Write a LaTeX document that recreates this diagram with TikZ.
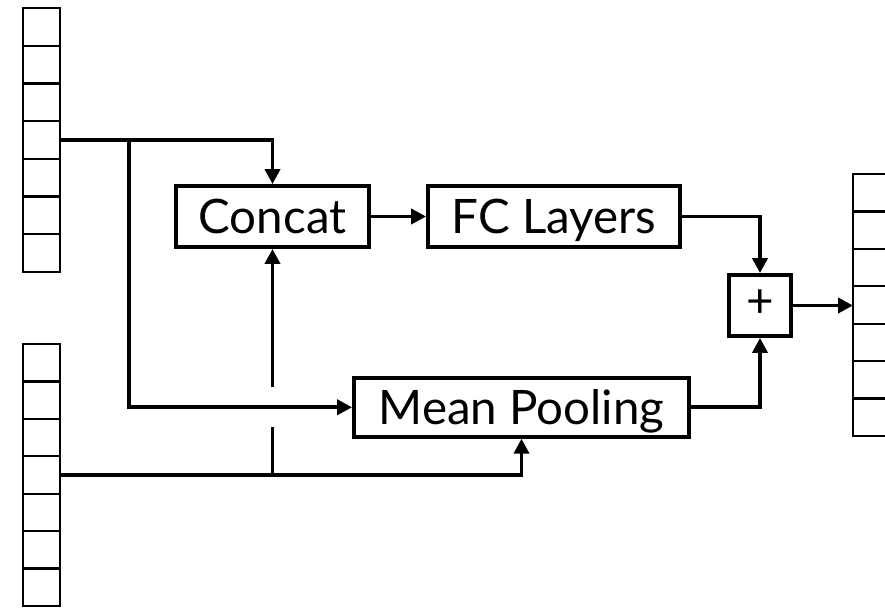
\documentclass[tikz,border=0pt]{standalone}
\usepackage{fontspec}
\setmainfont{Lato}
\usetikzlibrary{arrows.meta,calc}

\begin{document}
\begin{tikzpicture}[x=1pt,y=-1pt,
  line join=miter,
  wire/.style={line width=3.8pt},
  conn/.style={wire,-{Triangle[length=15pt,width=15pt]}},
  opbox/.style={draw,line width=3.8pt,inner sep=0pt,
    text height=34pt,text depth=0pt,
    font=\fontsize{47.5}{56}\selectfont},
  vecbox/.style={draw,line width=2.3pt,inner sep=0pt,outer sep=0pt,
    minimum width=37pt},
]
\clip (0,0) rectangle (885,609);

% embedding vectors, seven cells each
\node[vecbox,minimum height=264pt] (v1) at (41.5,140) {};
\node[vecbox,minimum height=262pt] (v2) at (41.5,475) {};
\node[vecbox,minimum height=262pt] (v3) at (871.5,305) {};
\foreach \v in {v1,v2,v3}
  \foreach \i in {1,...,6}
    \draw[line width=2.3pt]
      ($(\v.north west)!\i/7!(\v.south west)$) --
      ($(\v.north east)!\i/7!(\v.south east)$);

% operation blocks
\node[opbox,minimum width=193pt,minimum height=61pt] (concat) at (272.5,216.5) {Concat};
\node[opbox,minimum width=252pt,minimum height=61pt] (fc) at (554,216.5) {FC Layers};
\node[opbox,minimum width=335pt,minimum height=59pt] (mean) at (521.5,407.25) {Mean Pooling};
\node[opbox,minimum width=62pt,minimum height=61pt,text height=24pt] (plus) at (760,305.5) {+};

% branch points
\coordinate (s1) at (129,140);
\coordinate (s2) at (concat.south |- v2.east);
\coordinate (gapLo) at ($(concat.south |- mean.west)+(0,20)$);
\coordinate (gapHi) at ($(concat.south |- mean.west)+(0,-20)$);

% connectors
\draw[conn] (v1.east) -| (concat.north);
\draw[conn] (s1) |- (mean.west);
\draw[conn] (v2.east) -| (mean.south);
\draw[wire] (s2) -- (gapLo);
\draw[conn] (gapHi) -- (concat.south);
\draw[conn] (concat.east) -- (fc.west);
\draw[conn] (fc.east) -| (plus.north);
\draw[conn] (mean.east) -| (plus.south);
\draw[conn] (plus.east) -- (plus.east -| v3.west);
\end{tikzpicture}
\end{document}
